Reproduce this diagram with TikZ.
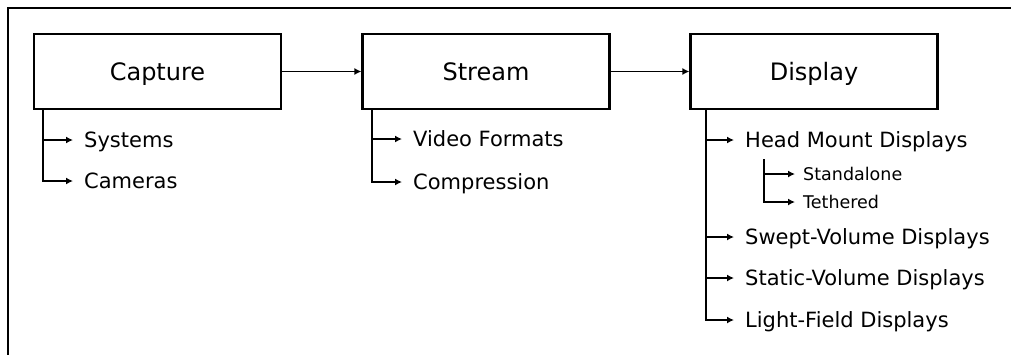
\documentclass[tikz,border=0pt]{standalone}
\usepackage{fontspec}
\setmainfont{DejaVu Sans}
\usetikzlibrary{arrows.meta}
\begin{document}
\begin{tikzpicture}[x=1pt,y=-1pt,
  stage/.style={draw,line width=2.2pt,minimum width=247pt,minimum height=75pt,
    inner sep=0pt,text height=17.5pt,text depth=0pt,
    font=\fontsize{24}{28}\selectfont},
  item/.style={anchor=west,inner sep=0pt,text height=15.3pt,text depth=0pt,
    font=\fontsize{21}{25}\selectfont},
  subitem/.style={anchor=west,inner sep=0pt,text height=12.8pt,text depth=0pt,
    font=\fontsize{17.5}{21}\selectfont},
  link/.style={line width=1.6pt,-{Latex[length=7pt,width=7pt]}},
  branch/.style={link,shorten >=11pt},
  frame/.style={line width=2.2pt}]
  \useasboundingbox (0,0) rectangle (1011,354);

  % open frame: top and left edges only
  \coordinate (fbl) at (8,356);
  \coordinate (ftl) at (8,8);
  \coordinate (ftr) at (1013,8);
  \draw[frame] (fbl) -- (ftl) -- (ftr);

  % pipeline stages
  \node[stage] (cap) at (157.5,71.5) {Capture};
  \node[stage] (str) at (486,71.5) {Stream};
  \node[stage] (dis) at (814,71.5) {Display};
  \draw[link] (cap) -- (str);
  \draw[link] (str) -- (dis);

  % capture topics
  \node[item] (sys) at (84,140) {Systems};
  \node[item] (cam) at (84,181) {Cameras};
  \coordinate (capt) at (43,109);
  \draw[branch] (capt) |- (sys.west);
  \draw[branch] (capt) |- (cam.west);

  % stream topics
  \node[item] (vid) at (413,139) {Video Formats};
  \node[item] (cmp) at (413,182) {Compression};
  \coordinate (strt) at (372,109);
  \draw[branch] (strt) |- (vid.west);
  \draw[branch] (strt) |- (cmp.west);

  % display topics
  \node[item] (hmd) at (745,140) {Head Mount Displays};
  \node[subitem] (sta) at (803,174) {Standalone};
  \node[subitem] (tet) at (803,202) {Tethered};
  \node[item] (swe) at (745,237) {Swept-Volume Displays};
  \node[item] (stv) at (745,278) {Static-Volume Displays};
  \node[item] (lfd) at (745,320) {Light-Field Displays};
  \coordinate (dist) at (706,109);
  \draw[branch] (dist) |- (hmd.west);
  \draw[branch] (dist) |- (swe.west);
  \draw[branch] (dist) |- (stv.west);
  \draw[branch] (dist) |- (lfd.west);
  \coordinate (hmdt) at (764,159);
  \draw[link,shorten >=8pt] (hmdt) |- (sta.west);
  \draw[link,shorten >=8pt] (hmdt) |- (tet.west);
\end{tikzpicture}
\end{document}
